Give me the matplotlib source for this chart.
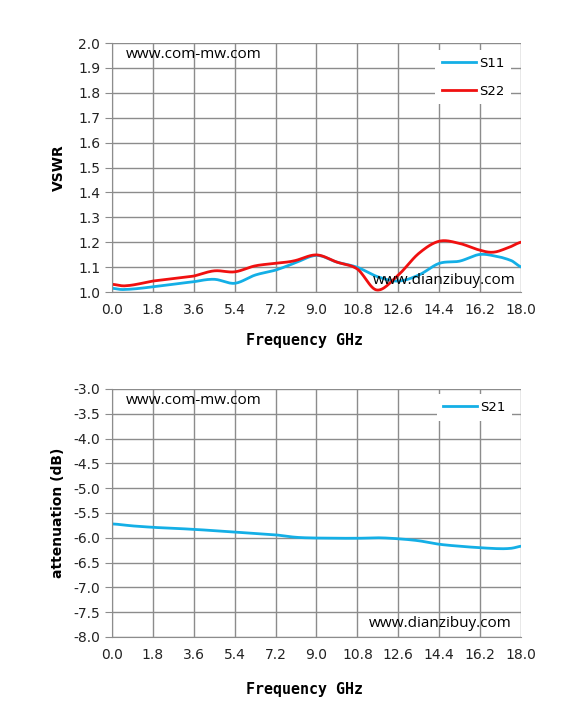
import matplotlib
matplotlib.use("Agg")
import matplotlib.pyplot as plt
import numpy as np

# VSWR data (GHz)
freq_vswr = [0.0, 0.5, 1.8, 3.6, 4.5, 5.4, 6.3, 7.2, 8.0, 9.0, 9.9, 10.8, 11.7, 12.6, 13.5, 14.4, 15.3, 16.2, 17.1, 17.6, 18.0]
s11 = [1.015, 1.010, 1.021, 1.041, 1.051, 1.035, 1.068, 1.088, 1.115, 1.147, 1.120, 1.099, 1.061, 1.044, 1.068, 1.115, 1.124, 1.151, 1.140, 1.125, 1.101]
freq_s22 = [0.0, 0.6, 1.8, 3.6, 4.5, 5.4, 6.3, 7.2, 8.0, 9.0, 9.9, 10.8, 11.65, 12.6, 13.5, 14.4, 15.3, 16.2, 16.8, 17.5, 18.0]
s22 = [1.031, 1.025, 1.044, 1.064, 1.085, 1.081, 1.105, 1.115, 1.125, 1.149, 1.120, 1.092, 1.008, 1.068, 1.155, 1.204, 1.195, 1.168, 1.160, 1.180, 1.200]

# attenuation data
freq_s21 = [0.0, 0.9, 1.8, 3.6, 5.4, 7.2, 8.1, 9.0, 10.8, 11.7, 12.6, 13.5, 14.4, 15.3, 16.2, 17.1, 17.6, 18.0]
s21 = [-5.72, -5.76, -5.79, -5.83, -5.885, -5.94, -5.99, -6.005, -6.01, -6.0, -6.02, -6.06, -6.13, -6.17, -6.2, -6.22, -6.21, -6.17]

xticks = np.arange(0, 18.01, 1.8)

def smooth(x, y, n=300):
    x = np.asarray(x, float); y = np.asarray(y, float)
    xs = np.linspace(x[0], x[-1], n)
    # catmull-rom style smoothing through the points
    out = []
    for xv in xs:
        i = min(np.searchsorted(x, xv, side="right") - 1, len(x) - 2)
        p0 = y[max(i - 1, 0)]; p1 = y[i]; p2 = y[i + 1]; p3 = y[min(i + 2, len(y) - 1)]
        t = (xv - x[i]) / (x[i + 1] - x[i])
        out.append(0.5 * ((2 * p1) + (-p0 + p2) * t + (2 * p0 - 5 * p1 + 4 * p2 - p3) * t ** 2 + (-p0 + 3 * p1 - 3 * p2 + p3) * t ** 3))
    return xs, np.array(out)

blue = "#14AFE6"
red = "#F01010"
grid_c = "#8c8c8c"

fig = plt.figure(figsize=(5.67, 7.28), dpi=100)
ax1 = fig.add_axes([0.1975, 0.5989, 0.7214, 0.342])
ax2 = fig.add_axes([0.1975, 0.125, 0.7214, 0.3407])

def style(ax, label_y):
    for s in ["top", "right"]:
        ax.spines[s].set_visible(False)
    for s in ["left", "bottom"]:
        ax.spines[s].set_color(grid_c)
    ax.grid(True, color=grid_c, linewidth=1)
    ax.set_axisbelow(True)
    ax.tick_params(axis="both", colors=grid_c, labelcolor="#222222", labelsize=10, length=5)
    ax.tick_params(axis="x", length=0, pad=8)
    ax.set_xticks(xticks)
    ax.set_xticklabels(["%.1f" % v for v in xticks])
    ax.set_xlim(0, 18)
    ax.set_xlabel("Frequency GHz", family="DejaVu Sans Mono", weight="bold", fontsize=10.8)
    ax.xaxis.set_label_coords(0.47, label_y)

def legend(ax, anchor, spacing):
    leg = ax.legend(loc="upper right", bbox_to_anchor=anchor, frameon=True, fancybox=False,
                    edgecolor="none", facecolor="white", framealpha=1, fontsize=9.5,
                    handlelength=2.6, handletextpad=0.2, labelspacing=spacing, borderpad=0.5,
                    borderaxespad=0)
    for line in leg.get_lines():
        line.set_linewidth(2)
    return leg

x, y = smooth(freq_vswr, s11)
ax1.plot(x, y, color=blue, lw=2, label="S11")
x, y = smooth(freq_s22, s22)
ax1.plot(x, y, color=red, lw=2, label="S22")
ax1.set_ylim(1.0, 2.0)
ax1.set_yticks(np.arange(1.0, 2.01, 0.1))
ax1.set_yticklabels(["%.1f" % v for v in np.arange(1.0, 2.01, 0.1)])
style(ax1, -0.166)
ax1.set_ylabel("VSWR", weight="bold", fontsize=10, labelpad=9)
ax1.text(0.035, 0.955, "www.com-mw.com", transform=ax1.transAxes, fontsize=11, family="Open Sans", va="center")
ax1.text(0.638, 0.045, "www.dianzibuy.com", transform=ax1.transAxes, fontsize=11, family="Open Sans", va="center")
legend(ax1, (0.975, 0.972), 1.15)

x, y = smooth(freq_s21, s21)
ax2.plot(x, y, color=blue, lw=2, label="S21")
ax2.set_ylim(-8.0, -3.0)
ax2.set_yticks(np.arange(-8.0, -2.99, 0.5))
ax2.set_yticklabels(["%.1f" % v for v in np.arange(-8.0, -2.99, 0.5)])
style(ax2, -0.182)
ax2.set_ylabel("attenuation (dB)", weight="bold", fontsize=10, labelpad=6)
ax2.text(0.035, 0.955, "www.com-mw.com", transform=ax2.transAxes, fontsize=11, family="Open Sans", va="center")
ax2.text(0.628, 0.055, "www.dianzibuy.com", transform=ax2.transAxes, fontsize=11, family="Open Sans", va="center")
legend(ax2, (0.978, 0.978), 1.0)

fig.savefig("out.png", dpi=100, facecolor="white")
